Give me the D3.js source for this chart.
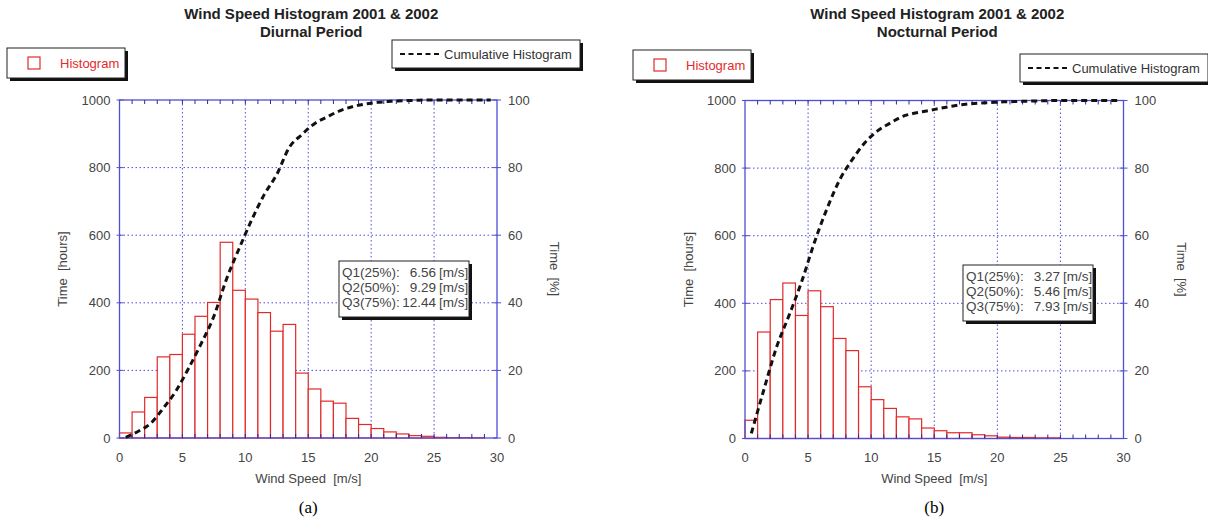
<!DOCTYPE html>
<html>
<head>
<meta charset="utf-8">
<script src="https://cdn.jsdelivr.net/npm/d3@7"></script>
<style>
  body { margin: 0; background: #fff; }
  svg { display: block; font-family: "Liberation Sans", Arial, sans-serif; }
</style>
</head>
<body>
<svg id="chart" width="1208" height="521"></svg>
<script>
// wind speed bins (left edge, m/s), 1 m/s wide
const windBins = [0, 1, 2, 3, 4, 5, 6, 7, 8, 9, 10, 11, 12, 13, 14, 15, 16, 17, 18, 19, 20, 21, 22, 23, 24, 25, 26, 27, 28, 29];

// hours per bin
const diurnalHours = [15, 77, 120, 240, 247, 307, 360, 401, 579, 437, 411, 371, 316, 336, 192, 145, 109, 103, 58, 40, 28, 18, 12, 7, 5, 2, 1, 1, 1, 0];
const nocturnalHours = [54, 315, 411, 460, 364, 437, 390, 296, 260, 153, 115, 89, 64, 58, 31, 23, 17, 17, 11, 8, 4, 3, 3, 2, 2, 0, 0, 0, 0, 0];

// cumulative histogram [%], at bin centres
const diurnalCumPct = [0.2, 2, 4.4, 8.9, 14, 20.7, 28, 36, 47, 56, 64.5, 72, 78, 86, 89.8, 93, 95, 96.8, 98, 98.8, 99.3, 99.6, 99.8, 99.9, 100, 100, 100, 100, 100, 100];
const nocturnalCumPct = [1.5, 14.5, 27, 36.5, 46.5, 58, 68, 76.5, 82.5, 87.5, 91, 93.3, 95.3, 96.3, 97, 97.7, 98.4, 98.9, 99.2, 99.4, 99.6, 99.7, 99.8, 99.9, 100, 100, 100, 100, 100, 100];

const diurnalQuartiles = [["Q1(25%):", "6.56"], ["Q2(50%):", "9.29"], ["Q3(75%):", "12.44"]];
const nocturnalQuartiles = [["Q1(25%):", "3.27"], ["Q2(50%):", "5.46"], ["Q3(75%):", "7.93"]];

const xTicks = [0, 5, 10, 15, 20, 25, 30];
const hourTicks = [0, 200, 400, 600, 800, 1000];
const pctTicks = [0, 20, 40, 60, 80, 100];

const BLUE = "#4f4fd6", RED = "#e32a2a", TXT = "#444";

const svg = d3.select("#chart");

const panels = [
  { sub: "Diurnal Period", hours: diurnalHours, cum: diurnalCumPct, quart: diurnalQuartiles, tag: "(a)",
    plot: { l: 119.5, r: 497, t: 100, b: 438 },
    histLeg: { x: 7, y: 48 }, cumLeg: { x: 392, y: 40 }, qBox: { x: 339, y: 261 } },
  { sub: "Nocturnal Period", hours: nocturnalHours, cum: nocturnalCumPct, quart: nocturnalQuartiles, tag: "(b)",
    plot: { l: 745, r: 1123.5, t: 100.5, b: 438.5 },
    histLeg: { x: 633, y: 50 }, cumLeg: { x: 1020, y: 54 }, qBox: { x: 963, y: 265 } }
];

panels.forEach(drawPanel);

function drawPanel(p) {
  const { l, r, t, b } = p.plot;
  const g = svg.append("g");
  const x = d3.scaleLinear().domain([0, 30]).range([l, r]);
  const yH = d3.scaleLinear().domain([0, 1000]).range([b, t]);
  const yP = d3.scaleLinear().domain([0, 100]).range([b, t]);
  const cx = (l + r) / 2;

  // titles
  g.append("text").attr("x", cx + 3).attr("y", 19).attr("text-anchor", "middle")
    .attr("font-weight", "bold").attr("font-size", 15).attr("fill", "#222")
    .text("Wind Speed Histogram 2001 & 2002");
  g.append("text").attr("x", cx + 3).attr("y", 37).attr("text-anchor", "middle")
    .attr("font-weight", "bold").attr("font-size", 15).attr("fill", "#222")
    .text(p.sub);

  // grid
  g.append("g").selectAll("line").data(xTicks.slice(1, -1)).join("line")
    .attr("x1", d => x(d)).attr("x2", d => x(d)).attr("y1", t).attr("y2", b)
    .attr("stroke", BLUE).attr("stroke-width", 1).attr("stroke-dasharray", "1.5,2.5");
  g.append("g").selectAll("line").data(hourTicks.slice(1, -1)).join("line")
    .attr("y1", d => yH(d)).attr("y2", d => yH(d)).attr("x1", l).attr("x2", r)
    .attr("stroke", BLUE).attr("stroke-width", 1).attr("stroke-dasharray", "1.5,2.5");

  // histogram bars
  g.append("g").selectAll("rect").data(windBins.map((v, i) => ({ v, h: p.hours[i] })).filter(d => d.h > 0))
    .join("rect")
    .attr("x", d => x(d.v)).attr("width", d => x(d.v + 1) - x(d.v))
    .attr("y", d => yH(d.h)).attr("height", d => b - yH(d.h))
    .attr("fill", "#fff").attr("stroke", RED).attr("stroke-width", 1.2);

  // frame
  g.append("rect").attr("x", l).attr("y", t).attr("width", r - l).attr("height", b - t)
    .attr("fill", "none").attr("stroke", BLUE).attr("stroke-width", 1.3);

  // minor ticks along top / bottom
  const minor = d3.range(1, 30);
  g.append("g").selectAll("line").data(minor).join("line")
    .attr("x1", d => x(d)).attr("x2", d => x(d)).attr("y1", b).attr("y2", b - 4)
    .attr("stroke", "#2a2aa0").attr("stroke-width", 1);
  g.append("g").selectAll("line").data(minor).join("line")
    .attr("x1", d => x(d)).attr("x2", d => x(d)).attr("y1", t).attr("y2", t + 4)
    .attr("stroke", "#2a2aa0").attr("stroke-width", 1);
  // y ticks
  g.append("g").selectAll("line").data(hourTicks).join("line")
    .attr("x1", l - 3).attr("x2", l + 4).attr("y1", d => yH(d)).attr("y2", d => yH(d))
    .attr("stroke", BLUE).attr("stroke-width", 1);
  g.append("g").selectAll("line").data(pctTicks).join("line")
    .attr("x1", r - 4).attr("x2", r + 4).attr("y1", d => yP(d)).attr("y2", d => yP(d))
    .attr("stroke", BLUE).attr("stroke-width", 1);

  // cumulative histogram
  const line = d3.line().x(d => x(d.v + 0.5)).y(d => yP(d.c)).curve(d3.curveMonotoneX);
  g.append("path").datum(windBins.map((v, i) => ({ v, c: p.cum[i] })))
    .attr("d", line).attr("fill", "none").attr("stroke", "#111")
    .attr("stroke-width", 3).attr("stroke-dasharray", "6,4");

  // tick labels
  g.append("g").selectAll("text").data(hourTicks).join("text")
    .attr("x", l - 9).attr("y", d => yH(d)).attr("dy", "0.35em").attr("text-anchor", "end")
    .attr("font-size", 13).attr("fill", TXT).text(d => d);
  g.append("g").selectAll("text").data(pctTicks).join("text")
    .attr("x", r + 11).attr("y", d => yP(d)).attr("dy", "0.35em")
    .attr("font-size", 13).attr("fill", TXT).text(d => d);
  g.append("g").selectAll("text").data(xTicks).join("text")
    .attr("x", d => x(d)).attr("y", b + 19).attr("dy", "0.35em").attr("text-anchor", "middle")
    .attr("font-size", 13).attr("fill", TXT).text(d => d);

  // axis titles
  g.append("text").attr("x", cx).attr("y", b + 40).attr("dy", "0.35em").attr("text-anchor", "middle")
    .attr("font-size", 13).attr("fill", TXT).attr("xml:space", "preserve").text("Wind Speed  [m/s]");
  g.append("text").attr("transform", `translate(${l - 57},${(t + b) / 2}) rotate(-90)`)
    .attr("dy", "0.35em").attr("text-anchor", "middle")
    .attr("font-size", 13).attr("fill", TXT).attr("xml:space", "preserve").text("Time  [hours]");
  g.append("text").attr("transform", `translate(${r + 58},${(t + b) / 2}) rotate(90)`)
    .attr("dy", "0.35em").attr("text-anchor", "middle")
    .attr("font-size", 13).attr("fill", TXT).attr("xml:space", "preserve").text("Time  [%]");

  // panel tag
  g.append("text").attr("x", cx).attr("y", 507).attr("dy", "0.35em").attr("text-anchor", "middle")
    .attr("font-family", "'Liberation Serif', 'Times New Roman', serif").attr("font-size", 17)
    .attr("fill", "#000").text(p.tag);

  // legend: histogram
  const hl = p.histLeg;
  shadowBox(g, hl.x, hl.y, 118, 30);
  g.append("rect").attr("x", hl.x + 21).attr("y", hl.y + 9).attr("width", 12).attr("height", 12)
    .attr("fill", "#fff").attr("stroke", RED).attr("stroke-width", 1.2);
  g.append("text").attr("x", hl.x + 53).attr("y", hl.y + 15).attr("dy", "0.35em")
    .attr("font-size", 13).attr("fill", RED).text("Histogram");

  // legend: cumulative
  const cl = p.cumLeg;
  shadowBox(g, cl.x, cl.y, 188, 28);
  g.append("line").attr("x1", cl.x + 8).attr("x2", cl.x + 50).attr("y1", cl.y + 14).attr("y2", cl.y + 14)
    .attr("stroke", "#111").attr("stroke-width", 2.2).attr("stroke-dasharray", "5,3.5");
  g.append("text").attr("x", cl.x + 52).attr("y", cl.y + 14).attr("dy", "0.35em")
    .attr("font-size", 13).attr("fill", "#333").text("Cumulative Histogram");

  // quartile box
  const q = p.qBox;
  shadowBox(g, q.x, q.y, 130, 56);
  const rows = g.append("g").selectAll("g").data(p.quart).join("g")
    .attr("transform", (d, i) => `translate(0,${q.y + 11 + i * 15})`);
  rows.append("text").attr("x", q.x + 3).attr("dy", "0.35em").attr("font-size", 13.5).attr("fill", TXT).text(d => d[0]);
  rows.append("text").attr("x", q.x + 97).attr("dy", "0.35em").attr("text-anchor", "end")
    .attr("font-size", 13.5).attr("fill", TXT).text(d => d[1]);
  rows.append("text").attr("x", q.x + 100).attr("dy", "0.35em").attr("font-size", 13.5).attr("fill", TXT).text("[m/s]");
}

function shadowBox(g, x, y, w, h) {
  g.append("rect").attr("x", x + 3).attr("y", y + 3).attr("width", w).attr("height", h).attr("fill", "#111");
  g.append("rect").attr("x", x).attr("y", y).attr("width", w).attr("height", h)
    .attr("fill", "#fff").attr("stroke", "#222").attr("stroke-width", 1);
}
</script>
</body>
</html>
